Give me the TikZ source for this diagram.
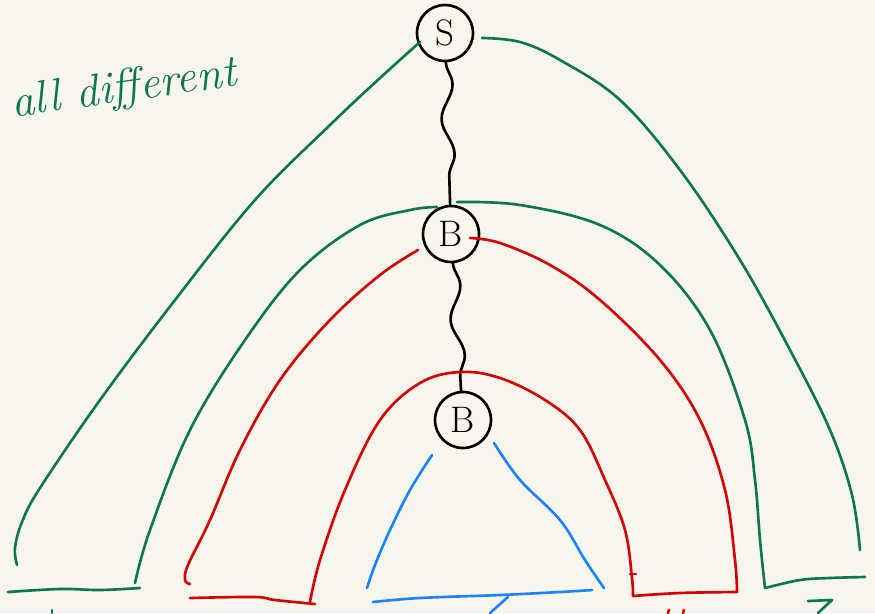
\documentclass[tikz,border=0pt]{standalone}
\usetikzlibrary{decorations.pathmorphing}
\definecolor{paper}{HTML}{F8F6EC}
\definecolor{pengreen}{HTML}{0B7554}
\definecolor{penred}{HTML}{D50000}
\definecolor{penblue}{HTML}{1A84FF}

\begin{document}
\begin{tikzpicture}[x=0.02cm,y=-0.02cm]
  \tikzstyle{every node}=[font=\fontsize{21}{21}\selectfont]
  \tikzstyle{var}=[draw,circle,line width=1.5pt,minimum size=1.12cm,inner sep=0pt]
  \tikzstyle{ink}=[line width=1.5pt,line cap=round,line join=round]
  \tikzstyle{wiggle}=[ink,decorate,decoration={snake,amplitude=0.12cm,segment length=1.4cm}]

  \fill[paper] (0,0) rectangle (875,613);
  \useasboundingbox (0,0) rectangle (875,613);

  \node[var] (s) at (445,33) {S};
  \node[var] (b1) at (451,234) {B};
  \node[var] (b2) at (463,420) {B};

  \node[pengreen,rotate=8,inner sep=0pt,font=\fontsize{26}{26}\selectfont\itshape] (title) at (124,90) {all different};

  \draw[wiggle] (s) -- (b1);
  \draw[wiggle] (b1) -- (b2);

  % green
  \draw[ink,pengreen] plot[smooth,tension=0.6] coordinates {(17,565) (15,548) (22,522) (40,488) (100,400) (175,300) (255,200) (330,125) (380,78) (420,42)};
  \draw[ink,pengreen] plot[smooth,tension=0.6] coordinates {(482,38) (520,42) (560,60) (620,100) (680,170) (740,260) (790,350) (830,430) (852,495) (860,550)};
  \draw[ink,pengreen] plot[smooth,tension=0.6] coordinates {(8,592) (60,589) (100,590) (140,588)};
  \draw[ink,pengreen] plot[smooth,tension=0.6] coordinates {(135,583) (150,530) (190,430) (245,340) (300,270) (360,225) (410,210) (437,207)};
  \draw[ink,pengreen] plot[smooth,tension=0.6] coordinates {(457,202) (520,205) (600,225) (660,265) (710,330) (745,420) (755,480) (760,540) (765,588)};
  \draw[ink,pengreen] plot[smooth,tension=0.6] coordinates {(765,588) (800,580) (830,578) (865,577)};

  % red
  \draw[ink,penred] plot[smooth,tension=0.6] coordinates {(418,250) (380,275) (330,320) (280,380) (240,450) (210,520) (188,565) (185,580) (190,584)};
  \draw[ink,penred] plot[smooth,tension=0.6] coordinates {(190,598) (255,597) (275,600) (315,604)};
  \draw[ink,penred] plot[smooth,tension=0.6] coordinates {(310,602) (320,560) (345,490) (380,420) (420,383) (460,372) (500,378) (545,400) (580,430) (605,480) (625,530) (632,578) (633,596)};
  \draw[ink,penred] (630,574) -- (636,574);
  \draw[ink,penred] plot[smooth,tension=0.6] coordinates {(633,596) (680,593) (737,592)};
  \draw[ink,penred] plot[smooth,tension=0.6] coordinates {(737,592) (735,560) (725,490) (700,420) (660,360) (600,300) (550,265) (500,243) (470,238)};

  % blue
  \draw[ink,penblue] plot[smooth,tension=0.6] coordinates {(432,455) (410,490) (390,530) (375,565) (367,588)};
  \draw[ink,penblue] plot[smooth,tension=0.6] coordinates {(373,602) (420,598) (500,595) (560,592) (592,590)};
  \draw[ink,penblue] plot[smooth,tension=0.6] coordinates {(494,443) (520,480) (560,520) (585,560) (604,588)};

  % cut off marks at the lower edge
  \draw[ink,penblue] (490,613) -- (508,597);
  \draw[ink,pengreen] (52,613) -- (52,610);
  \draw[ink,penred] (668,613) -- (669,610);
  \draw[ink,penred] (683,613) -- (684,610);
  \draw[ink,pengreen] (808,601) -- (832,600) -- (818,613);
\end{tikzpicture}
\end{document}
